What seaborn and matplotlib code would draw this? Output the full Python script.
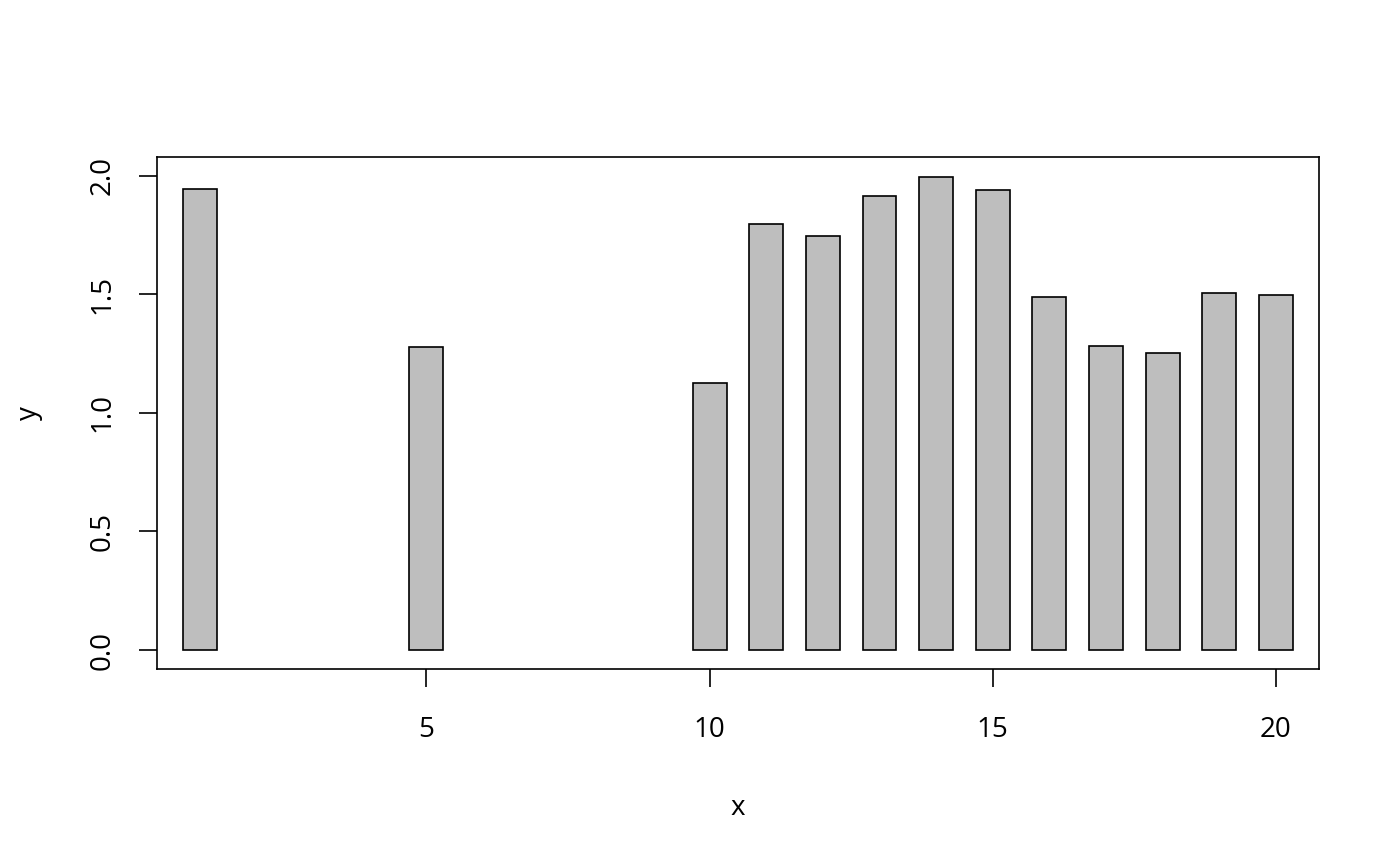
import matplotlib
matplotlib.use("Agg")
import matplotlib.pyplot as plt
import seaborn as sns
import numpy as np

# values
x_vals = [1, 5, 10, 11, 12, 13, 14, 15, 16, 17, 18, 19, 20]
y_vals = [1.945, 1.277, 1.126, 1.798, 1.744, 1.916, 1.996, 1.941,
          1.487, 1.282, 1.252, 1.504, 1.496]
x_ticks = [5, 10, 15, 20]
y_ticks = [0.0, 0.5, 1.0, 1.5, 2.0]

sns.set_style("white")
plt.rcParams["font.family"] = ["Open Sans", "DejaVu Sans"]

DPI = 100
FONT = 20
fig = plt.figure(figsize=(1400 / DPI, 866 / DPI), dpi=DPI)
ax = fig.add_axes([0.1121, 0.2275, 0.8300, 0.5912])

sns.barplot(x=x_vals, y=y_vals, native_scale=True, width=0.6,
            color="#BEBEBE", saturation=1, edgecolor="black",
            linewidth=1.2, ax=ax)

ax.set_xlim(0.24, 20.76)
ax.set_ylim(-0.08, 2.0784)
ax.set_xticks(x_ticks)
ax.set_xticklabels([str(t) for t in x_ticks])
ax.set_yticks(y_ticks)
ax.set_yticklabels([f"{t:.1f}" for t in y_ticks], rotation=90, va="center")

for s in ax.spines.values():
    s.set_visible(True)
    s.set_color("black")
    s.set_linewidth(1.2)

ax.tick_params(axis="both", direction="out", length=13, width=1.2,
               color="black", labelsize=FONT, labelcolor="black",
               bottom=True, left=True)
ax.tick_params(axis="x", pad=21)
ax.tick_params(axis="y", pad=16)

ax.set_xlabel("x", fontsize=FONT, labelpad=36, color="black")
ax.set_ylabel("y", fontsize=FONT, labelpad=33, color="black")

fig.savefig("out.png", dpi=DPI)
